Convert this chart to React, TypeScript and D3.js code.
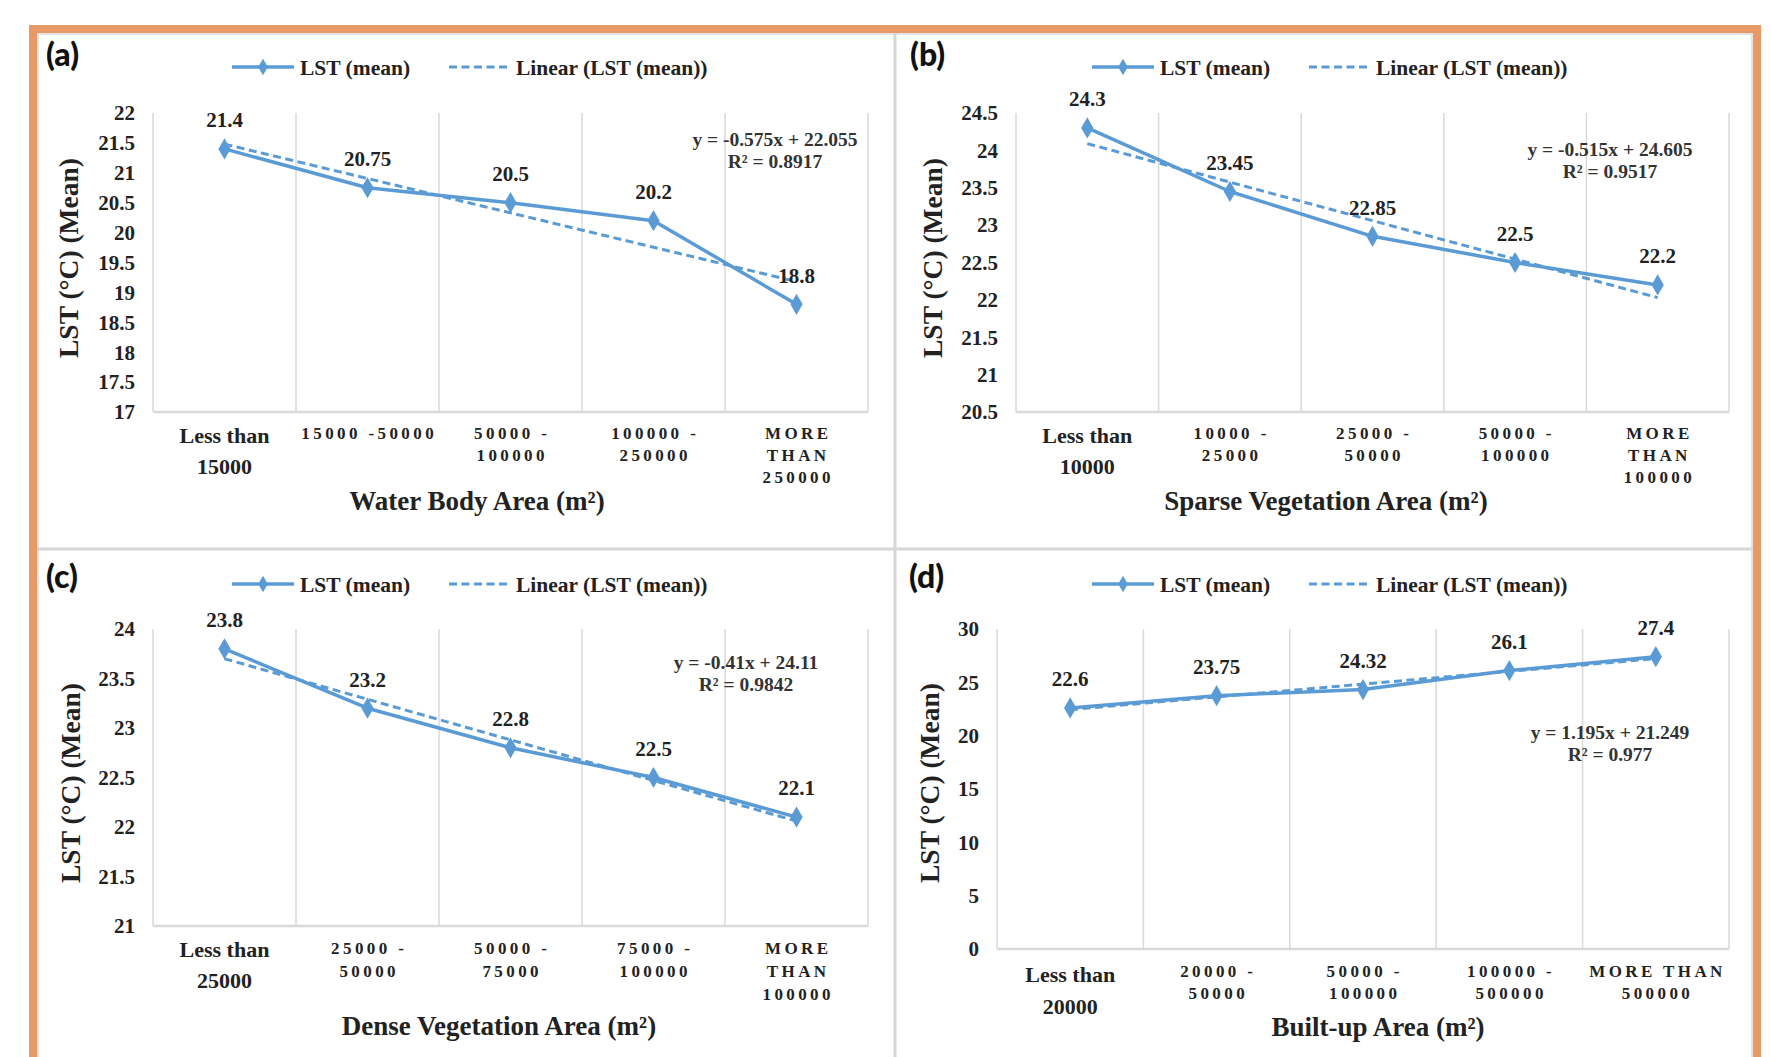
import React from "react";
import * as d3 from "d3";

// ---------- data ----------
const panelLetters = ["(a)", "(b)", "(c)", "(d)"];

const categoriesA = [["Less than", "15000"], ["15000 -50000"], ["50000 -", "100000"], ["100000 -", "250000"], ["MORE", "THAN", "250000"]];
const categoriesB = [["Less than", "10000"], ["10000 -", "25000"], ["25000 -", "50000"], ["50000 -", "100000"], ["MORE", "THAN", "100000"]];
const categoriesC = [["Less than", "25000"], ["25000 -", "50000"], ["50000 -", "75000"], ["75000 -", "100000"], ["MORE", "THAN", "100000"]];
const categoriesD = [["Less than", "20000"], ["20000 -", "50000"], ["50000 -", "100000"], ["100000 -", "500000"], ["MORE THAN", "500000"]];

const valuesA = [21.4, 20.75, 20.5, 20.2, 18.8];
const valuesB = [24.3, 23.45, 22.85, 22.5, 22.2];
const valuesC = [23.8, 23.2, 22.8, 22.5, 22.1];
const valuesD = [22.6, 23.75, 24.32, 26.1, 27.4];

const labelsA = ["21.4", "20.75", "20.5", "20.2", "18.8"];
const labelsB = ["24.3", "23.45", "22.85", "22.5", "22.2"];
const labelsC = ["23.8", "23.2", "22.8", "22.5", "22.1"];
const labelsD = ["22.6", "23.75", "24.32", "26.1", "27.4"];

const yTicksA = [17, 17.5, 18, 18.5, 19, 19.5, 20, 20.5, 21, 21.5, 22];
const yTicksB = [20.5, 21, 21.5, 22, 22.5, 23, 23.5, 24, 24.5];
const yTicksC = [21, 21.5, 22, 22.5, 23, 23.5, 24];
const yTicksD = [0, 5, 10, 15, 20, 25, 30];

const trendSlopes = [-0.575, -0.515, -0.41, 1.195];
const trendIntercepts = [22.055, 24.605, 24.11, 21.249];
const equationTexts = ["y = -0.575x + 22.055", "y = -0.515x + 24.605", "y = -0.41x + 24.11", "y = 1.195x + 21.249"];
const r2Texts = ["R² = 0.8917", "R² = 0.9517", "R² = 0.9842", "R² = 0.977"];

const xTitles = ["Water Body Area (m²)", "Sparse Vegetation Area (m²)", "Dense Vegetation Area (m²)", "Built-up Area (m²)"];
const yTitle = "LST (°C) (Mean)";
const legendSolid = "LST (mean)";
const legendDashed = "Linear (LST (mean))";

// ---------- layout ----------
const W = 1771;
const H = 1057;
const BLUE = "#5B9BD5";
const ORANGE = "#E89A66";
const GRID = "#d9d9d9";
const SERIF = "'Liberation Serif', 'Times New Roman', serif";
const SANS = "Lato, 'Open Sans', sans-serif";

const layouts = [
  { x0: 153, x1: 868, y0: 113, y1: 412, letterX: 46, letterY: 66, legX: 232, legY: 67, yTitleX: 68, yTitleY: 258, xTitleX: 477, xTitleY: 501, eqX: 775, eqY: 139, lessDy: [23, 54], spDy: [21, 43, 65] },
  { x0: 1016, x1: 1729, y0: 113, y1: 412, letterX: 910, letterY: 66, legX: 1092, legY: 67, yTitleX: 932, yTitleY: 258, xTitleX: 1326, xTitleY: 501, eqX: 1610, eqY: 149, lessDy: [23, 54], spDy: [21, 43, 65] },
  { x0: 153, x1: 868, y0: 629, y1: 926, letterX: 46, letterY: 588, legX: 232, legY: 584, yTitleX: 70, yTitleY: 783, xTitleX: 499, xTitleY: 1026, eqX: 746, eqY: 662, lessDy: [23, 54], spDy: [22, 45, 68] },
  { x0: 997, x1: 1729, y0: 629, y1: 949, letterX: 909, letterY: 588, legX: 1092, legY: 584, yTitleX: 929, yTitleY: 783, xTitleX: 1378, xTitleY: 1027, eqX: 1610, eqY: 732, lessDy: [25, 57], spDy: [22, 44, 66] },
];

const panelData = [
  { cats: categoriesA, vals: valuesA, labels: labelsA, ticks: yTicksA },
  { cats: categoriesB, vals: valuesB, labels: labelsB, ticks: yTicksB },
  { cats: categoriesC, vals: valuesC, labels: labelsC, ticks: yTicksC },
  { cats: categoriesD, vals: valuesD, labels: labelsD, ticks: yTicksD },
];

function Panel({ idx }: { idx: number }) {
  const L = layouts[idx];
  const D = panelData[idx];
  const idxs = D.vals.map((_, i) => i);
  const x = d3.scaleBand<number>().domain(idxs).range([L.x0, L.x1]);
  const bw = x.bandwidth();
  const cx = (i: number) => (x(i) as number) + bw / 2;
  const y = d3
    .scaleLinear()
    .domain([d3.min(D.ticks) as number, d3.max(D.ticks) as number])
    .range([L.y1, L.y0]);

  const line = d3
    .line<number>()
    .x((_, i) => cx(i))
    .y((v) => y(v));
  const trendVals = idxs.map((i) => trendSlopes[idx] * (i + 1) + trendIntercepts[idx]);
  const diamond = d3.symbol(d3.symbolDiamond, 130)() as string;
  const legDiamond = d3.symbol(d3.symbolDiamond, 80)() as string;

  const gridXs = d3.range(0, idxs.length + 1).map((i) => L.x0 + i * bw);

  return (
    <g>
      {/* panel letter */}
      <text x={L.letterX} y={L.letterY} fontFamily={SANS} fontWeight={900} fontSize={32} fill="#111">
        {panelLetters[idx]}
      </text>
      {/* legend */}
      <g>
        <line x1={L.legX} x2={L.legX + 62} y1={L.legY} y2={L.legY} stroke={BLUE} strokeWidth={3.5} />
        <path d={legDiamond} transform={`translate(${L.legX + 31},${L.legY})`} fill={BLUE} />
        <text x={L.legX + 68} y={L.legY} dy="0.35em" fontFamily={SERIF} fontWeight={700} fontSize={21.5} fill="#222">
          {legendSolid}
        </text>
        <line x1={L.legX + 217} x2={L.legX + 279} y1={L.legY} y2={L.legY} stroke={BLUE} strokeWidth={3} strokeDasharray="8,4.5" />
        <text x={L.legX + 284} y={L.legY} dy="0.35em" fontFamily={SERIF} fontWeight={700} fontSize={21.5} fill="#222">
          {legendDashed}
        </text>
      </g>
      {/* gridlines */}
      {gridXs.map((gx, i) => (
        <line key={i} x1={gx} x2={gx} y1={L.y0} y2={L.y1} stroke={GRID} strokeWidth={1.5} />
      ))}
      <line x1={L.x0} x2={L.x1} y1={L.y1} y2={L.y1} stroke={GRID} strokeWidth={2.5} />
      {/* y ticks */}
      {D.ticks.map((t) => (
        <text key={t} x={L.x0 - 18} y={y(t)} dy="0.35em" textAnchor="end" fontFamily={SERIF} fontWeight={700} fontSize={21} fill="#222">
          {String(t)}
        </text>
      ))}
      {/* y title */}
      <text
        transform={`translate(${L.yTitleX},${L.yTitleY}) rotate(-90)`}
        textAnchor="middle"
        dy="0.35em"
        fontFamily={SERIF}
        fontWeight={700}
        fontSize={27.5}
        fill="#222"
      >
        {yTitle}
      </text>
      {/* x labels */}
      {D.cats.map((lines, i) =>
        lines[0] === "Less than"
          ? lines.map((t, j) => (
              <text key={`${i}-${j}`} x={cx(i)} y={L.y1 + L.lessDy[j]} dy="0.35em" textAnchor="middle" fontFamily={SERIF} fontWeight={700} fontSize={22} fill="#222">
                {t}
              </text>
            ))
          : lines.map((t, j) => (
              <text key={`${i}-${j}`} x={cx(i) + 1.7} y={L.y1 + L.spDy[j]} dy="0.35em" textAnchor="middle" fontFamily={SERIF} fontWeight={700} fontSize={17} letterSpacing={3.4} fill="#222">
                {t}
              </text>
            ))
      )}
      {/* x title */}
      <text x={L.xTitleX} y={L.xTitleY} dy="0.35em" textAnchor="middle" fontFamily={SERIF} fontWeight={700} fontSize={27} fill="#222">
        {xTitles[idx]}
      </text>
      {/* trend */}
      <path d={line(trendVals) as string} fill="none" stroke={BLUE} strokeWidth={3} strokeDasharray="8,4.5" />
      {/* series */}
      <path d={line(D.vals) as string} fill="none" stroke={BLUE} strokeWidth={3.5} strokeLinejoin="round" />
      {D.vals.map((v, i) => (
        <path key={i} d={diamond} transform={`translate(${cx(i)},${y(v)})`} fill={BLUE} />
      ))}
      {/* data labels */}
      {D.vals.map((v, i) => (
        <text key={i} x={cx(i)} y={y(v) - 29} dy="0.35em" textAnchor="middle" fontFamily={SERIF} fontWeight={700} fontSize={21} fill="#222">
          {D.labels[i]}
        </text>
      ))}
      {/* equation */}
      <text x={L.eqX} y={L.eqY} dy="0.35em" textAnchor="middle" fontFamily={SERIF} fontWeight={700} fontSize={19.5} fill="#333">
        {equationTexts[idx]}
      </text>
      <text x={L.eqX} y={L.eqY + 22} dy="0.35em" textAnchor="middle" fontFamily={SERIF} fontWeight={700} fontSize={19.5} fill="#333">
        {r2Texts[idx]}
      </text>
    </g>
  );
}

export default function App() {
  return (
    <svg width={W} height={H} viewBox={`0 0 ${W} ${H}`} style={{ position: "absolute", left: 0, top: 0, background: "#fff" }}>
      <rect x={0} y={0} width={W} height={H} fill="#fff" />
      <rect x={29} y={25} width={1732} height={H} fill={ORANGE} />
      <rect x={37} y={33} width={1716} height={H} fill="#fff" />
      <rect x={38} y={34} width={1714} height={H} fill="none" stroke="#e3e3e3" strokeWidth={2} />
      <line x1={895} x2={895} y1={33} y2={H} stroke="#d6d6d6" strokeWidth={3} />
      <line x1={37} x2={1753} y1={549} y2={549} stroke="#d6d6d6" strokeWidth={3} />
      {[0, 1, 2, 3].map((i) => (
        <Panel key={i} idx={i} />
      ))}
    </svg>
  );
}
